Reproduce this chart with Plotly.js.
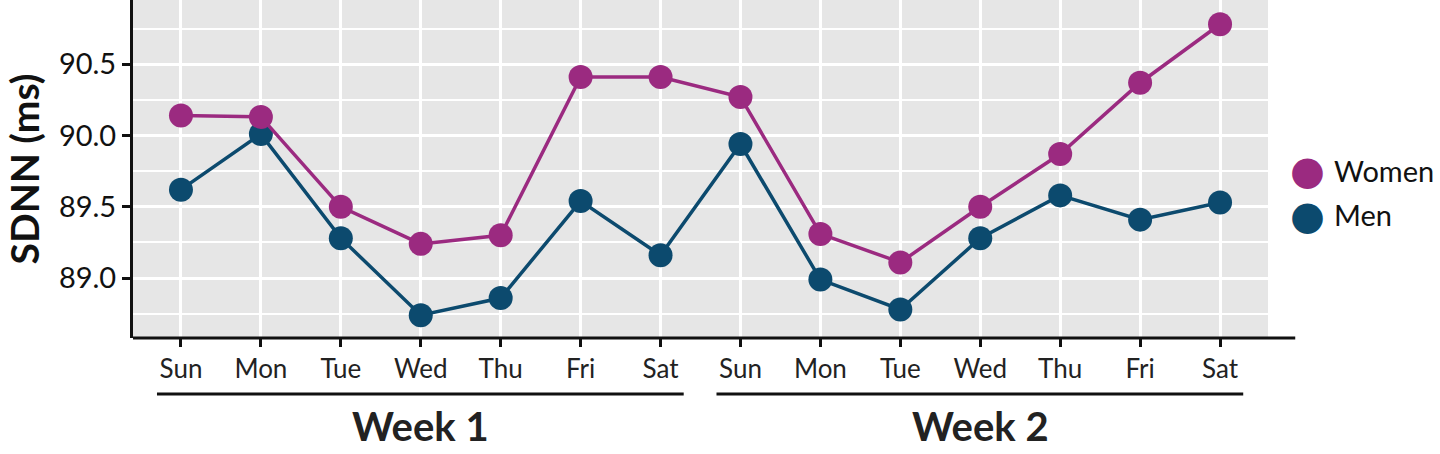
<!DOCTYPE html>
<html>
<head>
<meta charset="utf-8">
<script src="https://cdn.plot.ly/plotly-3.0.1.min.js"></script>
<style>
  html, body { margin: 0; padding: 0; background: #fff; }
  #chart { width: 1440px; height: 454px; }
</style>
</head>
<body>
<div id="chart"></div>
<script>
// day labels for the two weeks
const days = ["Sun", "Mon", "Tue", "Wed", "Thu", "Fri", "Sat",
              "Sun", "Mon", "Tue", "Wed", "Thu", "Fri", "Sat"];
const weeks = ["Week 1", "Week 2"];

// SDNN values (ms)
const women = [90.14, 90.13, 89.50, 89.24, 89.30, 90.41, 90.41,
               90.27, 89.31, 89.11, 89.50, 89.87, 90.37, 90.78];
const men = [89.62, 90.01, 89.28, 88.74, 88.86, 89.54, 89.16,
             89.94, 88.99, 88.78, 89.28, 89.58, 89.41, 89.53];

const seriesNames = ["Women", "Men"];
const seriesColors = ["#9b2a80", "#0c4a6e"];

let xIdx = days.map((d, i) => i);

function lineTrace(name, values, color) {
  return {
    type: "scatter",
    mode: "lines+markers",
    name: name,
    x: xIdx,
    y: values,
    line: { color: color, width: 3.5 },
    marker: { color: color, size: 24 },
    showlegend: false,
    cliponaxis: false,
  };
}

let data = [
  lineTrace("Men", men, seriesColors[1]),
  lineTrace("Women", women, seriesColors[0]),
];

// week brackets under the day labels
let shapes = [
  { type: "line", xref: "x", yref: "paper", x0: -0.3, x1: 6.29, y0: -0.166, y1: -0.166,
    line: { color: "#111", width: 3 } },
  { type: "line", xref: "x", yref: "paper", x0: 6.7, x1: 13.29, y0: -0.166, y1: -0.166,
    line: { color: "#111", width: 3 } },
  // x axis line runs a bit past the panel
  { type: "line", xref: "paper", yref: "paper", x0: 0, x1: 1.024, y0: 0, y1: 0,
    line: { color: "#111", width: 3 } },
];

let annotations = weeks.map((w, i) => ({
  text: "<b>" + w + "</b>",
  xref: "x",
  yref: "paper",
  x: 3 + i * 7,
  y: -0.26,
  yanchor: "middle",
  showarrow: false,
  font: { family: "Lato", size: 40, color: "#222" },
}));

// legend drawn by hand so the dots can be as big as the chart's
seriesNames.forEach((name, i) => {
  let yy = 0.497 - i * 0.133;
  annotations.push({
    text: "\u25CF",
    xref: "paper", yref: "paper",
    x: 1.0352, y: yy,
    xanchor: "center", yanchor: "middle",
    showarrow: false,
    font: { family: "DejaVu Sans", size: 40, color: seriesColors[i] },
  });
  annotations.push({
    text: name,
    xref: "paper", yref: "paper",
    x: 1.056, y: yy,
    xanchor: "left", yanchor: "middle",
    showarrow: false,
    font: { family: "Lato", size: 29, color: "#111" },
  });
});

let layout = {
  width: 1440,
  height: 454,
  margin: { l: 133, r: 172, t: 0, b: 116 },
  paper_bgcolor: "#ffffff",
  plot_bgcolor: "#e6e6e6",
  font: { family: "Lato", color: "#111" },
  showlegend: false,
  xaxis: {
    range: [-0.6, 13.6],
    tickmode: "array",
    tickvals: xIdx,
    ticktext: days,
    showgrid: true,
    gridcolor: "#ffffff",
    gridwidth: 2.5,
    zeroline: false,
    showline: false,
    ticks: "outside",
    ticklen: 8,
    tickwidth: 3,
    tickcolor: "#111",
    tickfont: { family: "Lato", size: 26, color: "#222" },
  },
  yaxis: {
    range: [88.58, 90.95],
    tickmode: "array",
    tickvals: [89.0, 89.5, 90.0, 90.5],
    ticktext: ["89.0", "89.5", "90.0", "90.5"],
    showgrid: true,
    gridcolor: "#ffffff",
    gridwidth: 2.5,
    minor: {
      tickmode: "array",
      tickvals: [88.75, 89.25, 89.75, 90.25, 90.75],
      showgrid: true,
      gridcolor: "#ffffff",
      gridwidth: 2,
      ticks: "",
    },
    zeroline: false,
    showline: true,
    linecolor: "#111",
    linewidth: 3,
    ticks: "outside",
    ticklen: 8,
    tickwidth: 3,
    tickcolor: "#111",
    tickfont: { family: "Lato", size: 29, color: "#111" },
    title: {
      text: "<b>SDNN (ms)</b>",
      font: { family: "Lato", size: 39, color: "#111" },
      standoff: 8,
    },
  },
  shapes: shapes,
  annotations: annotations,
};

Plotly.newPlot("chart", data, layout, { displayModeBar: false });
</script>
</body>
</html>
